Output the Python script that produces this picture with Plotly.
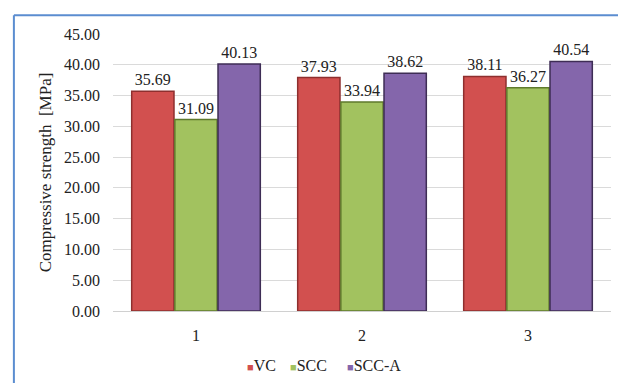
import plotly.graph_objects as go

categories = ["1", "2", "3"]
vc = [35.69, 37.93, 38.11]
scc = [31.09, 33.94, 36.27]
scc_a = [40.13, 38.62, 40.54]
y_ticks = [0, 5, 10, 15, 20, 25, 30, 35, 40, 45]

series = [
    ("VC", vc, "#D2504F", "#8E2F2E"),
    ("SCC", scc, "#A2C25F", "#5F7A2C"),
    ("SCC-A", scc_a, "#8466AB", "#3E2D55"),
]

font = "'Liberation Serif', 'Times New Roman', serif"
fig = go.Figure()
for name, vals, fill, edge in series:
    fig.add_trace(go.Bar(
        name=name, x=categories, y=vals,
        marker=dict(color=fill, line=dict(color=edge, width=1.5)),
        text=[f"{v:.2f}" for v in vals], textposition="outside",
        textfont=dict(family=font, size=16, color="#222"),
        cliponaxis=False, showlegend=False,
    ))

# plot area in pixels, used to place the legend row in paper units
L, W, B, H = 113, 498, 311, 277
legend_left_px = [246, 289, 346]
legend_y = -(365 - B) / H
annotations = []
for (name, _, fill, _), px in zip(series, legend_left_px):
    annotations.append(dict(
        text=f'<span style="color:{fill};font-size:11px">■</span>{name}',
        xref="paper", yref="paper", x=(px - 1 - L) / W, y=legend_y,
        xanchor="left", yanchor="middle", showarrow=False,
        font=dict(family=font, size=16, color="#222")))

fig.update_layout(
    width=618, height=383,
    margin=dict(l=113, r=7, t=34, b=72),
    paper_bgcolor="white", plot_bgcolor="white",
    barmode="group", bargap=0.22, bargroupgap=0.02,
    font=dict(family=font, size=16, color="#222"),
    xaxis=dict(showgrid=False, showline=True, linecolor="#D0D0D0", linewidth=1,
               ticks="", tickfont=dict(family=font, size=16), ticklabelstandoff=10),
    yaxis=dict(range=[0, 45], tickvals=y_ticks, ticktext=[f"{t:.2f}" for t in y_ticks],
               showgrid=True, gridcolor="#DADADA", gridwidth=1, zeroline=False,
               showline=False, ticks="", ticklabelstandoff=12,
               tickfont=dict(family=font, size=16),
               title=dict(text="Compressive strength  [MPa]",
                          font=dict(family=font, size=17), standoff=8)),
    annotations=annotations,
    shapes=[dict(type="line", xref="paper", yref="paper",
                 x0=-0.199, y0=-0.3, x1=-0.199, y1=1.068,
                 line=dict(color="#5B8DD0", width=2)),
            dict(type="line", xref="paper", yref="paper",
                 x0=-0.199, y0=1.068, x1=1.02, y1=1.068,
                 line=dict(color="#5B8DD0", width=2))],
)

fig.write_html("out.html")
